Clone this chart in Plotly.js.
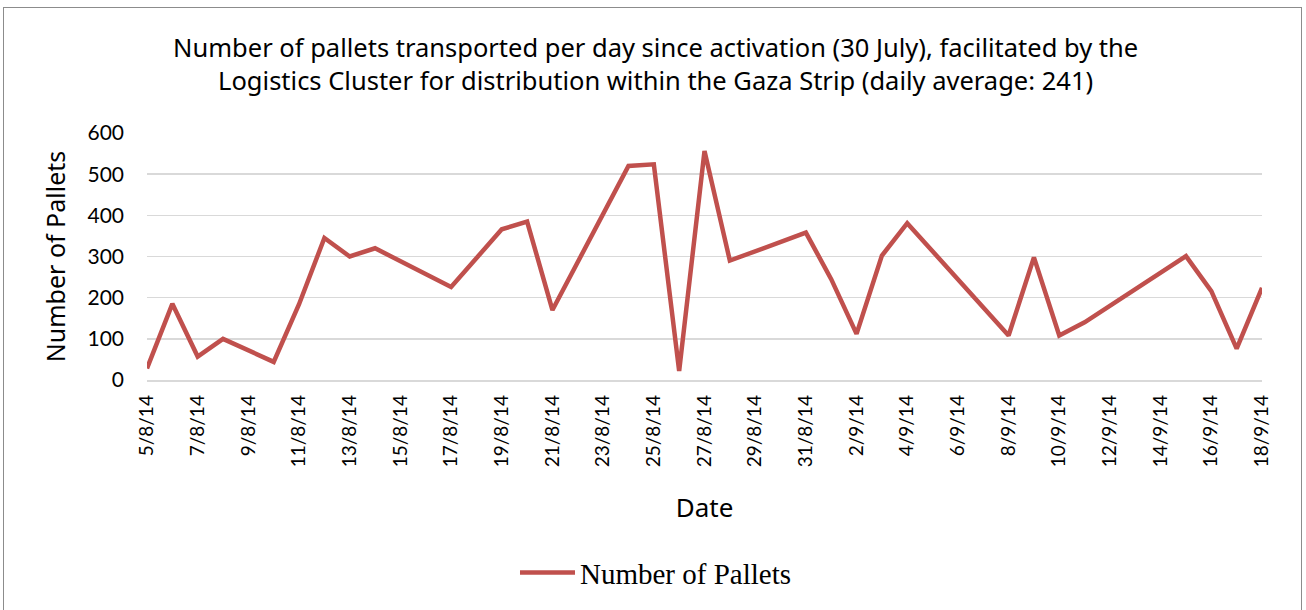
<!DOCTYPE html>
<html>
<head>
<meta charset="utf-8">
<script src="https://cdn.plot.ly/plotly-3.0.1.min.js"></script>
<style>
  html, body { margin: 0; padding: 0; background: #fff; }
  #chart { width: 1306px; height: 610px; }
  #frame { position: absolute; left: 3px; top: 7px; width: 1297px; height: 620px; border: 1px solid #8c8c8c; pointer-events: none; }
</style>
</head>
<body>
<div id="chart"></div>
<div id="frame"></div>
<script>
const dates = ["2014-08-05","2014-08-06","2014-08-07","2014-08-08","2014-08-10","2014-08-11",
  "2014-08-12","2014-08-13","2014-08-14","2014-08-17","2014-08-19","2014-08-20","2014-08-21",
  "2014-08-24","2014-08-25","2014-08-26","2014-08-27","2014-08-28","2014-08-31","2014-09-01",
  "2014-09-02","2014-09-03","2014-09-04","2014-09-08","2014-09-09","2014-09-10","2014-09-11",
  "2014-09-15","2014-09-16","2014-09-17","2014-09-18"];
const pallets = [28,185,57,100,44,184,345,300,320,226,366,385,170,520,524,22,556,290,358,245,
  112,302,381,108,298,108,140,301,216,76,224];
const seriesName = "Number of Pallets";
const chartTitle = "Number of pallets transported per day since activation (30 July), facilitated by the<br>Logistics Cluster for distribution within the Gaza Strip (daily average: 241)";
const xTitle = "Date";
const yTitle = "Number of Pallets";

const tickFont = "Lato, sans-serif";
const titleFont = "Noto Sans, sans-serif";
Plotly.newPlot("chart", [{
  x: dates, y: pallets, type: "scatter", mode: "lines", name: seriesName,
  line: { color: "#C0504D", width: 4.5 }
}], {
  width: 1306, height: 610,
  margin: { l: 147, r: 44, t: 133, b: 227 },
  paper_bgcolor: "#fff", plot_bgcolor: "#fff",
  font: { family: tickFont, color: "#000" },
  title: { text: chartTitle, x: 0.502, xanchor: "center", yref: "container", y: 0.906, yanchor: "middle",
           font: { family: titleFont, size: 25.5, color: "#000" } },
  xaxis: {
    type: "date", range: ["2014-08-05", "2014-09-18"],
    tick0: "2014-08-05", dtick: 2 * 86400000, tickformat: "%-d/%-m/%y",
    tickangle: -90, tickfont: { size: 19 }, showgrid: false, ticklabelstandoff: 6,
    showline: true, linecolor: "#D9D9D9", linewidth: 1.5, ticks: "", ticklen: 0,
    title: { text: xTitle, font: { family: titleFont, size: 26 }, standoff: 32 }, zeroline: false
  },
  yaxis: {
    range: [0, 600], dtick: 100, tickfont: { size: 21 }, ticklabelstandoff: 22,
    gridcolor: "#D9D9D9", gridwidth: 1.5, zeroline: false, showline: false, ticks: "",
    title: { text: yTitle, font: { family: titleFont, size: 25 }, standoff: 14 }
  },
  showlegend: true,
  legend: { orientation: "h", x: 0.4565, xanchor: "center", y: -0.78, yanchor: "middle", itemwidth: 55,
            font: { family: "Liberation Serif, serif", size: 29 } }
}, { displayModeBar: false, staticPlot: true });
</script>
</body>
</html>
